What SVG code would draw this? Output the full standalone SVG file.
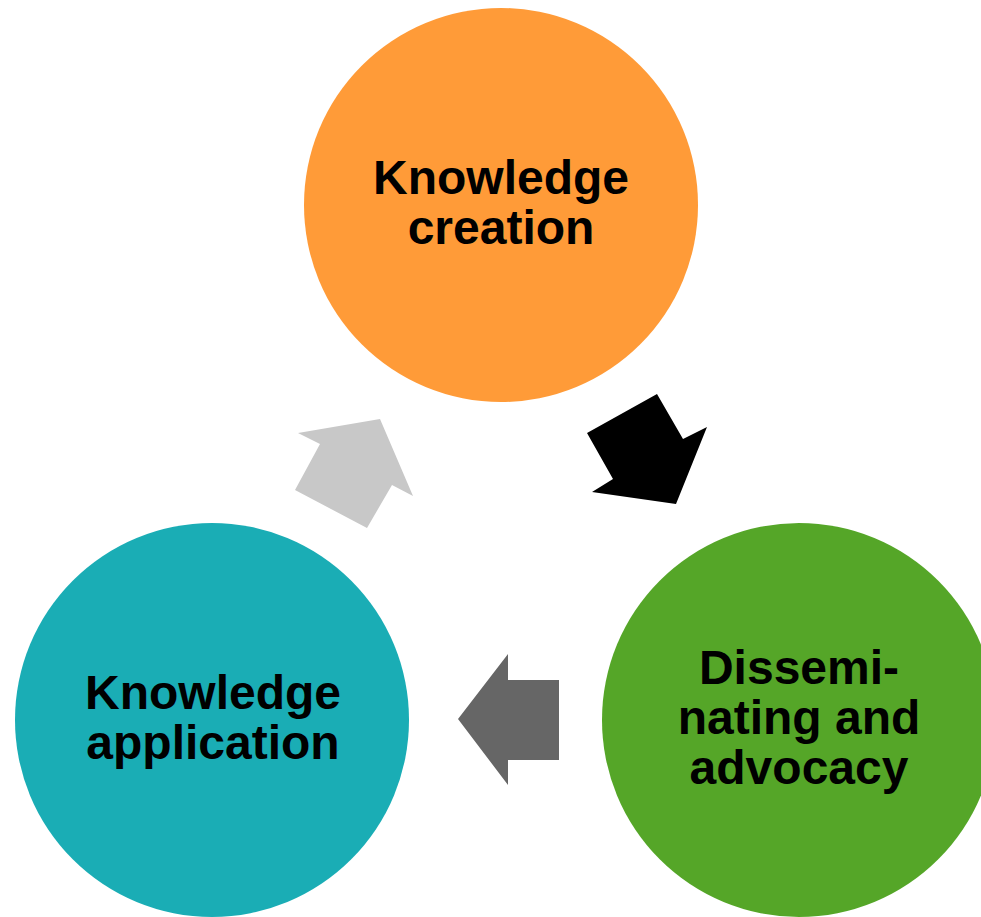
<svg xmlns="http://www.w3.org/2000/svg" width="981" height="917" viewBox="0 0 981 917">
<style>
.lbl{font-family:"Liberation Sans",Arial,sans-serif;font-weight:bold;font-size:48px;fill:#000;text-anchor:middle}
</style>
<rect width="981" height="917" fill="#fff"/>
<g id="node-creation">
<circle cx="501" cy="205" r="197" fill="#FF9B38"/>
<text class="lbl" x="501" y="194">Knowledge</text>
<text class="lbl" x="501" y="244">creation</text>
</g>
<g id="node-dissemination">
<circle cx="799" cy="720" r="197" fill="#55A628"/>
<text class="lbl" x="799" y="684">Dissemi-</text>
<text class="lbl" x="799" y="734">nating and</text>
<text class="lbl" x="799" y="784">advocacy</text>
</g>
<g id="node-application">
<circle cx="212" cy="720" r="197" fill="#1AADB5"/>
<text class="lbl" x="213" y="709">Knowledge</text>
<text class="lbl" x="213" y="759">application</text>
</g>
<g id="connectors">
<polygon points="587,433 657,394 683,439 707,427 676,504 592,492 613,479" fill="#000"/>
<polygon points="458,719 508,654 508,680 559,680 559,760 508,760 508,785" fill="#666"/>
<polygon points="298,433 380,419 413,496 392,485 367,528 295,490 320,444" fill="#C8C8C8"/>
</g>
</svg>
